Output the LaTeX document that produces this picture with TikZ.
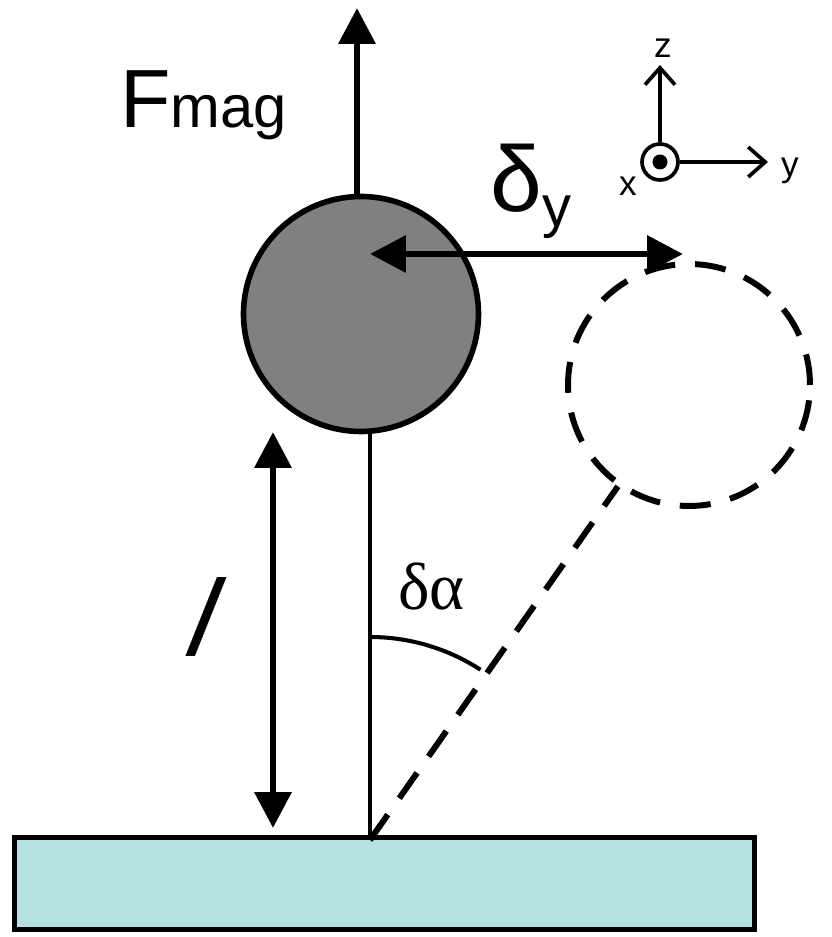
\documentclass[tikz,border=0pt]{standalone}
\usepackage{fontspec}
\setmainfont{Liberation Sans}
\newfontfamily\grecserif{Liberation Serif}
\newfontfamily\penchee[FakeSlant=0.4]{Liberation Sans}
\usepackage{tikz}
\usetikzlibrary{arrows.meta,positioning,calc}
\definecolor{grisB}{RGB}{128,128,128}
\definecolor{socleC}{HTML}{B6E1E1}
\tikzset{
  bille/.style={circle, draw=black, line width=3.2pt, minimum size=4.7cm, inner sep=0pt},
  fleche/.style={-{Triangle[length=0.72cm,width=0.72cm]}, line width=3.8pt},
  dfleche/.style={{Triangle[length=0.72cm,width=0.72cm]}-{Triangle[length=0.72cm,width=0.72cm]}, line width=3.8pt},
  axe/.style={-{Straight Barb[length=0.34cm,width=0.6cm]}, line width=2.1pt},
  tiret/.style={line width=3.4pt, dash pattern=on 0.62cm off 0.4cm},
  etiq/.style={inner sep=0pt, anchor=base west},
}

\begin{document}
\begin{tikzpicture}[x=0.02cm, y=0.02cm]
    \useasboundingbox (0,0) rectangle (832,937);
    % socle et tige
    \node[rectangle, draw=black, line width=3pt, fill=socleC, minimum width=14.8cm,
          minimum height=1.84cm, inner sep=0pt, anchor=south west] (socle) at (12,5) {};
    \coordinate (pivot) at (370,97);
    \node[bille, fill=grisB] (bille) at (361,623) {};
    \node[bille, draw=none, minimum size=4.84cm] (fantome) at (689,552) {};
    \draw[tiret] (fantome) circle[radius=2.42cm];
    \draw[line width=2.3pt] (pivot) -- (pivot |- bille.south);
    \draw[tiret] (pivot) -- (fantome);
    \draw[line width=2.3pt] ($(pivot)+(0,203)$) arc[start angle=90, end angle=57, radius=4.06cm];
    \node[etiq] (lalpha) at (398,327) {\grecserif\fontsize{38}{38}\selectfont δα};
    % force magnetique
    \coordinate (fmag) at (357,929);
    \draw[fleche] (fmag |- bille.north) -- (fmag);
    \node[etiq] (lfmag) at (120,809) {\fontsize{47}{47}\selectfont F\fontsize{34}{34}\selectfont mag};
    % deplacement
    \coordinate (dyg) at (370,683);
    \coordinate (dyd) at (683,683);
    \draw[dfleche] (dyg) -- (dyd);
    \node[etiq] (ldy) at (490,725) {\fontsize{53}{53}\selectfont δ\raisebox{-0.3cm}{\fontsize{33}{33}\selectfont y}};
    % longueur
    \coordinate (lh) at (273,505);
    \coordinate (lb) at (273,109);
    \draw[dfleche] (lh) -- (lb);
    \node (ll) at (191,320) {\penchee\fontsize{62}{62}\selectfont l};
    % repere
    \node[circle, draw=black, line width=2.1pt, minimum size=0.72cm, inner sep=0pt] (orig) at (660,775) {};
    \fill (orig) circle[radius=0.15cm];
    \coordinate (zt) at (660,872);
    \coordinate (yt) at (768,775);
    \draw[axe] (orig) -- (zt);
    \draw[axe] (orig) -- (yt);
    \node[font=\fontsize{20}{20}\selectfont] (lz) at (663,889) {z};
    \node[font=\fontsize{20}{20}\selectfont] (ly) at (790,766) {y};
    \node[font=\fontsize{20}{20}\selectfont] (lx) at (628,751) {x};
  \end{tikzpicture}
\end{document}
